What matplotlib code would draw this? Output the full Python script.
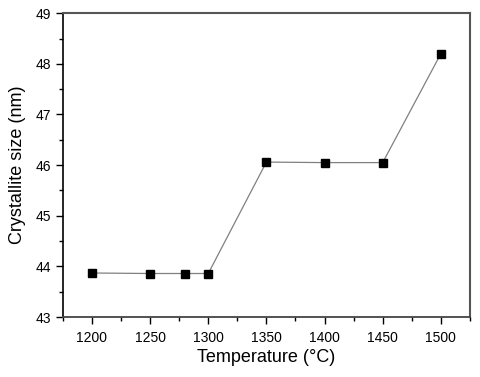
import matplotlib
matplotlib.use("Agg")
import matplotlib.pyplot as plt
from matplotlib.ticker import MultipleLocator

plt.rcParams['font.family'] = ['Liberation Sans', 'DejaVu Sans']

# temperature (C) and crystallite size (nm)
temperature = [1200, 1250, 1280, 1300, 1350, 1400, 1450, 1500]
size_nm = [43.87, 43.86, 43.86, 43.86, 46.06, 46.05, 46.05, 48.2]

fig = plt.figure(figsize=(4.8, 3.77), dpi=100)
ax = fig.add_axes([0.131, 0.159, 0.848, 0.806])

ax.plot(temperature, size_nm, color='#808080', lw=0.9,
        marker='s', markersize=6, markerfacecolor='black',
        markeredgecolor='black')

ax.set_xlim(1175, 1525)
ax.set_ylim(43, 49)
ax.xaxis.set_major_locator(MultipleLocator(50))
ax.xaxis.set_minor_locator(MultipleLocator(25))
ax.yaxis.set_major_locator(MultipleLocator(1))
ax.yaxis.set_minor_locator(MultipleLocator(0.5))

ax.tick_params(which='both', direction='out', top=False, right=False,
               labelsize=10, width=1)
ax.tick_params(which='major', length=5)
ax.tick_params(which='minor', length=3)
ax.tick_params(axis='x', which='major', pad=5)

ax.spines['left'].set_linewidth(1.2)
ax.spines['left'].set_color('black')
ax.spines['bottom'].set_linewidth(1.3)
ax.spines['bottom'].set_color('#444444')
for s in ['top', 'right']:
    ax.spines[s].set_linewidth(1.5)
    ax.spines[s].set_color('#555555')

ax.set_xlabel('Temperature (°C)', fontsize=13, labelpad=3)
ax.set_ylabel('Crystallite size (nm)', fontsize=13, labelpad=7)

fig.savefig('out.png', dpi=100)
